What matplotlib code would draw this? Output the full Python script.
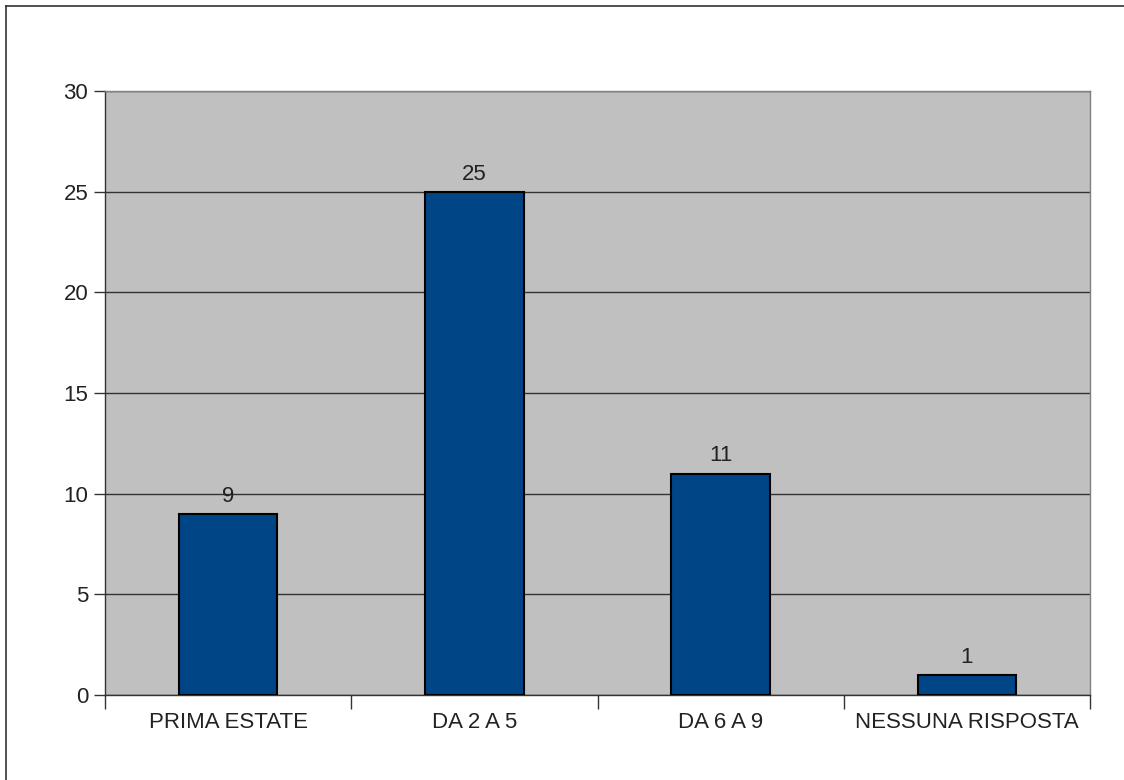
import matplotlib.pyplot as plt
from matplotlib.lines import Line2D

categories = ["PRIMA ESTATE", "DA 2 A 5", "DA 6 A 9", "NESSUNA RISPOSTA"]
values = [9, 25, 11, 1]
yticks = [0, 5, 10, 15, 20, 25, 30]

plt.rcParams['font.family'] = ['Liberation Sans', 'DejaVu Sans']

fig = plt.figure(figsize=(11.24, 7.8), dpi=100)
ax = fig.add_axes([105/1124, 1 - 695/780, 985/1124, 604/780])
ax.set_facecolor("#c0c0c0")

x = list(range(len(categories)))
bars = ax.bar(x, values, width=0.4, color="#004586", edgecolor="black", linewidth=1.5, zorder=3)
for b, v in zip(bars, values):
    ax.text(b.get_x() + b.get_width() / 2, v + 0.35, str(v), ha="center", va="bottom",
            fontsize=16, color="#222222", zorder=4)

ax.set_xlim(-0.5, len(categories) - 0.5)
ax.set_ylim(0, 30)
ax.set_yticks(yticks)
ax.yaxis.grid(True, color="#333333", linewidth=1, zorder=1)
ax.set_axisbelow(True)

ax.set_xticks(x)
ax.set_xticklabels(categories, fontsize=16, color="#222222")
ax.tick_params(axis="x", length=0, pad=12)
ax.set_xticks([i + 0.5 for i in range(-1, len(categories))], minor=True)
ax.tick_params(axis="x", which="minor", length=10, width=1, color="#333333")
ax.tick_params(axis="y", length=8, width=1, color="#333333", labelsize=16, labelcolor="#222222", pad=4)

for s in ["left", "bottom"]:
    ax.spines[s].set_color("#333333")
    ax.spines[s].set_linewidth(1)
for s in ["top", "right"]:
    ax.spines[s].set_color("#808080")
    ax.spines[s].set_linewidth(1)

# figure frame (top and left edges visible)
fig.add_artist(Line2D([6/1124, 6/1124], [0, 1 - 6/780], color="#333333", linewidth=1.2, transform=fig.transFigure))
fig.add_artist(Line2D([6/1124, 1], [1 - 6/780, 1 - 6/780], color="#333333", linewidth=1.2, transform=fig.transFigure))

plt.savefig("out.png", dpi=100)
